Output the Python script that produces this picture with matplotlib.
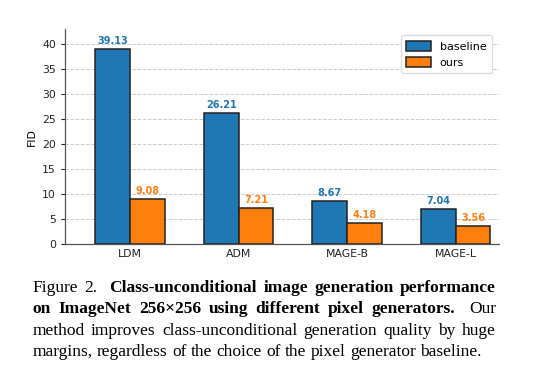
import matplotlib.pyplot as plt
import numpy as np

# data
models = ['LDM', 'ADM', 'MAGE-B', 'MAGE-L']
baseline = [39.13, 26.21, 8.67, 7.04]
ours = [9.08, 7.21, 4.18, 3.56]

caption_lines = [
    [('Figure 2.', 'normal'), ('Class-unconditional image generation performance', 'bold')],
    [('on ImageNet 256\u00d7256 using different pixel generators.', 'bold'), ('Our', 'normal')],
    [('method improves class-unconditional generation quality by huge', 'normal')],
    [('margins, regardless of the choice of the pixel generator baseline.', 'normal')],
]

blue = '#1f77b4'
orange = '#ff7f0e'

fig = plt.figure(figsize=(5.54, 3.69), dpi=100)
ax = fig.add_axes([0.1173, 0.338, 0.7834, 0.583])

x = np.arange(len(models))
w = 0.32
ax.bar(x - w / 2, baseline, w, color=blue, edgecolor='#222222', linewidth=1.1, label='baseline', zorder=3)
ax.bar(x + w / 2, ours, w, color=orange, edgecolor='#222222', linewidth=1.1, label='ours', zorder=3)

for i in range(len(models)):
    ax.text(x[i] - w / 2, baseline[i] + 0.6, f'{baseline[i]:.2f}', ha='center', va='bottom',
            color=blue, fontsize=7, fontweight='bold')
    ax.text(x[i] + w / 2, ours[i] + 0.6, f'{ours[i]:.2f}', ha='center', va='bottom',
            color=orange, fontsize=7, fontweight='bold')

ax.set_xlim(-0.6, 3.4)
ax.set_ylim(0, max(baseline) * 1.1)
ax.set_yticks(range(0, 45, 5))
ax.set_xticks(x)
ax.set_xticklabels(models)
ax.set_ylabel('FID', fontsize=7.8)
ax.tick_params(axis='both', labelsize=7.8, colors='#222222', length=3, width=0.8)
ax.tick_params(axis='x', length=0)
ax.grid(axis='y', linestyle='--', color='#cccccc', linewidth=0.7, zorder=0)
for s in ['top', 'right']:
    ax.spines[s].set_visible(False)
for s in ['left', 'bottom']:
    ax.spines[s].set_color('#555555')
    ax.spines[s].set_linewidth(0.9)

leg = ax.legend(loc='upper right', bbox_to_anchor=(0.984, 0.972), borderaxespad=0, fontsize=8,
                framealpha=1, edgecolor='#dddddd', handlelength=2.2, handleheight=1.0, borderpad=0.5)

# caption, justified by hand
fig.canvas.draw()
renderer = fig.canvas.get_renderer()
left, right = 32.5, 496
y0, dy = 292, 21.4
H = fig.bbox.height
font = dict(family='Liberation Serif', fontsize=12.5)

sp = fig.text(0, 0, 'a a', **font)
sp2 = fig.text(0, 0, 'aa', **font)
space = sp.get_window_extent(renderer).width - sp2.get_window_extent(renderer).width
sp.remove()
sp2.remove()

for li, line in enumerate(caption_lines):
    words = []
    weights = []
    for si, (seg, weight) in enumerate(line):
        for wi, wd in enumerate(seg.split(' ')):
            words.append((wd, weight))
            weights.append(1.8 if (si > 0 and wi == 0) else 1.0)
    weights = weights[1:]
    ypix = H - (y0 + li * dy)
    texts = []
    widths = []
    for wd, weight in words:
        t = fig.text(0, ypix / H, wd, fontweight=weight, va='baseline', ha='left', **font)
        widths.append(t.get_window_extent(renderer).width)
        texts.append(t)
    if li < len(caption_lines) - 1:
        unit = (right - left - sum(widths)) / sum(weights)
    else:
        unit = space
    xp = left
    for k, (t, wdt) in enumerate(zip(texts, widths)):
        t.set_x(xp / fig.bbox.width)
        if k < len(weights):
            xp += wdt + unit * weights[k]

fig.savefig('out.png', dpi=100)
